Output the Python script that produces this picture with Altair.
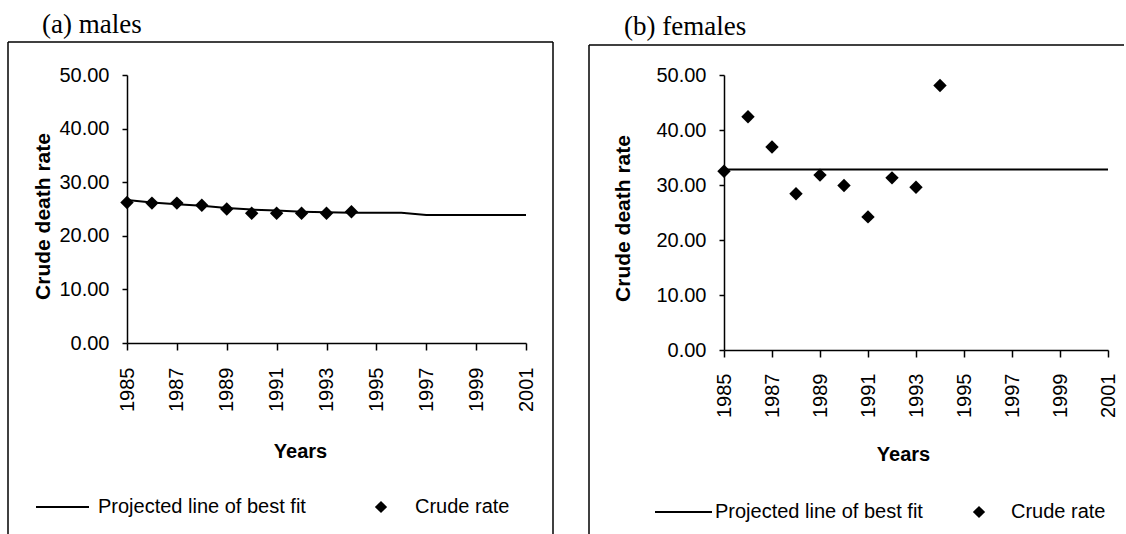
import altair as alt
import pandas as pd

# ---- data -------------------------------------------------------------
years = [1985, 1986, 1987, 1988, 1989, 1990, 1991, 1992, 1993, 1994,
         1995, 1996, 1997, 1998, 1999, 2000, 2001]
observed_years = [1985, 1986, 1987, 1988, 1989, 1990, 1991, 1992, 1993, 1994]

male_crude = [26.2, 26.1, 26.1, 25.7, 25.0, 24.2, 24.2, 24.2, 24.2, 24.5]
male_fit = [26.7, 26.2, 25.9, 25.6, 25.2, 24.9, 24.7, 24.5, 24.4, 24.3,
            24.3, 24.3, 23.9, 23.9, 23.9, 23.9, 23.9]

female_crude = [32.5, 42.4, 36.9, 28.4, 31.8, 29.9, 24.2, 31.3, 29.6, 48.1]
female_fit = [32.8, 32.8, 32.8, 32.8, 32.8, 32.8, 32.8, 32.8, 32.8, 32.8,
              32.8, 32.8, 32.8, 32.8, 32.8, 32.8, 32.8]

y_ticks = [0, 10, 20, 30, 40, 50]
x_ticks = years

SANS = "Liberation Sans"
SERIF = "Liberation Serif"
PAGE_H = 534

one = pd.DataFrame({"k": [0]})


def panel(title, crude, fit, g):
    ox, oy = g["ox"], g["oy"]

    def px(x):
        return x - ox

    def py(y):
        return y - oy

    fit_df = pd.DataFrame({"year": years, "value": fit})
    crude_df = pd.DataFrame({"year": observed_years, "value": crude})

    x_scale = alt.Scale(domain=[1985, 2001], nice=False, zero=False)
    y_scale = alt.Scale(domain=[0, 50], nice=False)

    x_axis = alt.Axis(
        values=x_ticks, format="d", zindex=2,
        labelExpr="datum.value % 2 == 1 ? datum.label : ''",
        labelAngle=270, labelFont=SANS, labelFontSize=20, labelColor="black",
        labelPadding=g["xlabpad"], labelOverlap=False, labelFlush=False,
        tickSize=7, tickColor="black", tickWidth=1.5,
        domainColor="black", domainWidth=1.5, grid=False,
        title="Years", titleFont=SANS, titleFontSize=20, titleFontWeight="bold",
        titleColor="black", titleX=g["xtitle_x"] - ox, titleY=g["xtitle_y"] - g["ybot"],
        titleBaseline="alphabetic", titleAlign="center",
    )
    y_axis = alt.Axis(
        values=y_ticks, format=".2f", zindex=2,
        labelFont=SANS, labelFontSize=20, labelColor="black", labelPadding=13,
        tickSize=5, tickColor="black", tickWidth=1.5,
        domainColor="black", domainWidth=1.5, grid=False,
        title="Crude death rate", titleFont=SANS, titleFontSize=21,
        titleFontWeight="bold", titleColor="black",
        titleX=g["ytitle_x"] - ox, titleY=g["ytitle_y"] - oy,
        titleBaseline="middle", titleAlign="center", titleAngle=270,
    )

    # invisible cell extent, so both panels sit at fixed page offsets
    bg = alt.Chart(one).mark_rect(color="white", opacity=0).encode(
        x=alt.value(px(g["cell_l"])), x2=alt.value(px(g["cell_r"])),
        y=alt.value(py(0)), y2=alt.value(py(PAGE_H)),
    )

    line = alt.Chart(fit_df).mark_line(color="black", strokeWidth=2).encode(
        x=alt.X("year:Q", scale=x_scale, axis=x_axis),
        y=alt.Y("value:Q", scale=y_scale, axis=y_axis),
    )
    pts = alt.Chart(crude_df).mark_point(
        shape="diamond", filled=True, size=180, color="black", opacity=1
    ).encode(x="year:Q", y="value:Q")

    layers = [bg, line, pts]

    # chart-area frame
    bl, bt, br = g["box_l"], g["box_t"], g["box_r"]
    layers.append(alt.Chart(one).mark_rule(color="black", strokeWidth=1.5).encode(
        x=alt.value(px(bl)), y=alt.value(py(bt)), y2=alt.value(py(PAGE_H))))
    layers.append(alt.Chart(one).mark_rule(color="black", strokeWidth=1.5).encode(
        x=alt.value(px(bl)), x2=alt.value(px(br)), y=alt.value(py(bt))))
    if g.get("box_right_edge"):
        layers.append(alt.Chart(one).mark_rule(color="black", strokeWidth=1.5).encode(
            x=alt.value(px(br)), y=alt.value(py(bt)), y2=alt.value(py(PAGE_H))))

    # panel heading
    layers.append(alt.Chart(one).mark_text(
        text=title, font=SERIF, fontSize=27, align="left", baseline="alphabetic",
        color="black").encode(x=alt.value(px(g["title_x"])), y=alt.value(py(g["title_y"]))))

    # legend
    ly = py(g["leg_y"])
    layers.append(alt.Chart(one).mark_rule(color="black", strokeWidth=2).encode(
        x=alt.value(px(g["leg_line"][0])), x2=alt.value(px(g["leg_line"][1])),
        y=alt.value(ly)))
    layers.append(alt.Chart(one).mark_text(
        text="Projected line of best fit", font=SANS, fontSize=20, align="left",
        baseline="middle", color="black").encode(
        x=alt.value(px(g["leg_text1"])), y=alt.value(ly)))
    layers.append(alt.Chart(one).mark_point(
        shape="diamond", filled=True, size=150, color="black", opacity=1).encode(
        x=alt.value(px(g["leg_dot"])), y=alt.value(ly)))
    layers.append(alt.Chart(one).mark_text(
        text="Crude rate", font=SANS, fontSize=20, align="left",
        baseline="middle", color="black").encode(
        x=alt.value(px(g["leg_text2"])), y=alt.value(ly)))

    return alt.layer(*layers).properties(
        width=g["w"], height=g["ybot"] - oy)


left_geom = dict(
    ox=127, oy=75, w=399, ybot=343, cell_l=0, cell_r=563, xlabpad=17,
    xtitle_x=300, xtitle_y=457, ytitle_x=43, ytitle_y=216,
    box_l=8, box_t=42, box_r=553, box_right_edge=True,
    title_x=42, title_y=33,
    leg_y=507, leg_line=(36, 89), leg_text1=98, leg_dot=381, leg_text2=415,
)
right_geom = dict(
    ox=724, oy=73, w=384, ybot=348, cell_l=563, cell_r=1126, xlabpad=16,
    xtitle_x=903, xtitle_y=458, ytitle_x=623, ytitle_y=216,
    box_l=589, box_t=43, box_r=1124, box_right_edge=False,
    title_x=624, title_y=33,
    leg_y=510, leg_line=(655, 712), leg_text1=715, leg_dot=979, leg_text2=1011,
)

chart = alt.hconcat(
    panel("(a) males", male_crude, male_fit, left_geom),
    panel("(b) females", female_crude, female_fit, right_geom),
    spacing=0,
).properties(padding=0).configure_view(stroke=None)

chart.save("out.html", embed_options={"renderer": "svg", "actions": False})
